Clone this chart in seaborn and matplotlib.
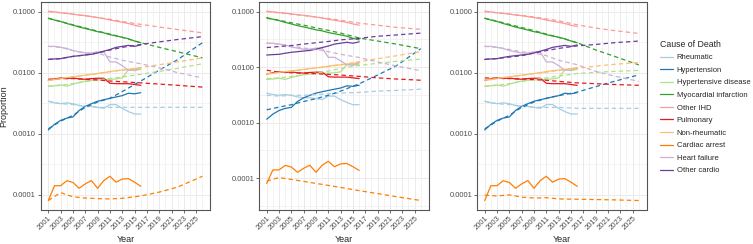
import matplotlib.pyplot as plt
import matplotlib.ticker as mticker
import numpy as np
import pandas as pd
import seaborn as sns
from matplotlib.lines import Line2D

sns.set_theme(style="white")
plt.rcParams["font.family"] = ["Liberation Sans", "DejaVu Sans"]

CAUSES = [
    "Rheumatic",
    "Hypertension",
    "Hypertensive disease",
    "Myocardial infarction",
    "Other IHD",
    "Pulmonary",
    "Non-rheumatic",
    "Cardiac arrest",
    "Heart failure",
    "Other cardio",
]

# observed proportions, 2001-2016 (same in every panel)
OBS_YEARS = list(range(2001, 2017))
obs_rheumatic = [0.0034, 0.0032, 0.0031, 0.0032, 0.0031, 0.0029, 0.0028, 0.0028, 0.0027, 0.0026, 0.0030, 0.0030, 0.0026, 0.0023, 0.0021, 0.0021]
obs_hypertension = [0.00115, 0.00142, 0.00165, 0.00180, 0.00188, 0.0024, 0.0028, 0.0031, 0.0034, 0.0036, 0.0038, 0.0040, 0.0042, 0.0046, 0.0045, 0.0047]
obs_hypertensive = [0.0060, 0.0061, 0.0063, 0.0060, 0.0065, 0.0069, 0.0073, 0.0075, 0.0076, 0.0077, 0.0078, 0.0079, 0.0082, 0.0112, 0.0108, 0.0113]
obs_mi = [0.078, 0.073, 0.069, 0.064, 0.060, 0.056, 0.053, 0.050, 0.047, 0.045, 0.042, 0.040, 0.038, 0.036, 0.033, 0.031]
obs_other_ihd = [0.102, 0.099, 0.096, 0.094, 0.091, 0.088, 0.086, 0.083, 0.080, 0.077, 0.073, 0.070, 0.067, 0.064, 0.060, 0.057]
obs_pulmonary = [0.0075, 0.0079, 0.0082, 0.0080, 0.0082, 0.0079, 0.0078, 0.0080, 0.0081, 0.0081, 0.0067, 0.0066, 0.0066, 0.0066, 0.0064, 0.0062]
obs_non_rheumatic = [0.0075, 0.0077, 0.0080, 0.0083, 0.0086, 0.0088, 0.0091, 0.0094, 0.0097, 0.0100, 0.0104, 0.0108, 0.0110, 0.0113, 0.0117, 0.0121]
obs_cardiac_arrest = [0.000080, 0.000140, 0.000140, 0.000169, 0.000158, 0.000127, 0.000150, 0.000170, 0.000127, 0.000170, 0.000200, 0.000160, 0.000180, 0.000183, 0.000160, 0.000137]
obs_heart_failure = [0.027, 0.027, 0.026, 0.025, 0.023, 0.022, 0.021, 0.021, 0.022, 0.022, 0.015, 0.015, 0.013, 0.011, 0.011, 0.012]
obs_other_cardio = [0.0165, 0.0168, 0.0170, 0.0178, 0.0185, 0.0190, 0.0195, 0.0200, 0.0210, 0.0225, 0.0240, 0.0260, 0.0270, 0.0280, 0.0270, 0.0285]

# fitted + projected values (dashed), one set per panel
FC_YEARS = [2001, 2003, 2005, 2007, 2009, 2011, 2013, 2016, 2019, 2022, 2026]

fc1 = {
    "Rheumatic": [0.0034, 0.0031, 0.0030, 0.0028, 0.0027, 0.0027, 0.0027, 0.0027, 0.0027, 0.0027, 0.0027],
    "Hypertension": [0.0012, 0.0016, 0.0020, 0.0027, 0.0033, 0.0038, 0.0049, 0.0073, 0.0110, 0.0164, 0.031],
    "Hypertensive disease": [0.0060, 0.0062, 0.0066, 0.0071, 0.0076, 0.0080, 0.0085, 0.0094, 0.0105, 0.0118, 0.0140],
    "Myocardial infarction": [0.078, 0.069, 0.061, 0.054, 0.048, 0.043, 0.038, 0.031, 0.026, 0.022, 0.0175],
    "Other IHD": [0.100, 0.096, 0.091, 0.086, 0.080, 0.075, 0.069, 0.062, 0.056, 0.051, 0.045],
    "Pulmonary": [0.0078, 0.0080, 0.0080, 0.0078, 0.0076, 0.0073, 0.0071, 0.0068, 0.0065, 0.0062, 0.0058],
    "Non-rheumatic": [0.0075, 0.0080, 0.0086, 0.0091, 0.0097, 0.0104, 0.0110, 0.0121, 0.0135, 0.0150, 0.0175],
    "Cardiac arrest": [0.000080, 0.000108, 0.000092, 0.000088, 0.000086, 0.000085, 0.000087, 0.000095, 0.000110, 0.000133, 0.000200],
    "Heart failure": [0.027, 0.026, 0.023, 0.021, 0.021, 0.018, 0.016, 0.014, 0.012, 0.010, 0.0082],
    "Other cardio": [0.0165, 0.0170, 0.0185, 0.0195, 0.0210, 0.0235, 0.0260, 0.0290, 0.0320, 0.0350, 0.0390],
}
fc2 = {
    "Rheumatic": [0.0031, 0.0030, 0.0031, 0.0031, 0.0032, 0.0033, 0.0034, 0.0035, 0.0037, 0.0038, 0.0040],
    "Hypertension": [0.0017, 0.0019, 0.0021, 0.0024, 0.0027, 0.0031, 0.0037, 0.0050, 0.0072, 0.0105, 0.0215],
    "Hypertensive disease": [0.0062, 0.0064, 0.0068, 0.0073, 0.0078, 0.0085, 0.0095, 0.0107, 0.0117, 0.0127, 0.0140],
    "Myocardial infarction": [0.076, 0.070, 0.063, 0.057, 0.051, 0.046, 0.041, 0.0335, 0.0295, 0.026, 0.0215],
    "Other IHD": [0.100, 0.095, 0.090, 0.085, 0.080, 0.075, 0.070, 0.062, 0.057, 0.052, 0.048],
    "Pulmonary": [0.0088, 0.0081, 0.0079, 0.0078, 0.0076, 0.0074, 0.0072, 0.0068, 0.0064, 0.0061, 0.0058],
    "Non-rheumatic": [0.0076, 0.0080, 0.0085, 0.0090, 0.0096, 0.0102, 0.0110, 0.0125, 0.0142, 0.0160, 0.0190],
    "Cardiac arrest": [0.000088, 0.000102, 0.0000944, 0.000087, 0.000080, 0.0000737, 0.0000676, 0.0000593, 0.0000524, 0.0000462, 0.0000393],
    "Heart failure": [0.027, 0.026, 0.024, 0.022, 0.021, 0.019, 0.017, 0.0149, 0.0124, 0.0105, 0.0086],
    "Other cardio": [0.0225, 0.0235, 0.0245, 0.0260, 0.0275, 0.0290, 0.0310, 0.0330, 0.0360, 0.0380, 0.0410],
}
fc3 = {
    "Rheumatic": [0.0034, 0.0031, 0.0030, 0.0028, 0.0027, 0.0027, 0.0027, 0.0026, 0.0026, 0.0026, 0.0026],
    "Hypertension": [0.0012, 0.0016, 0.0020, 0.0027, 0.0033, 0.0038, 0.0042, 0.0048, 0.0059, 0.0072, 0.0092],
    "Hypertensive disease": [0.0060, 0.0062, 0.0066, 0.0072, 0.0077, 0.0082, 0.0088, 0.0097, 0.0101, 0.0105, 0.0109],
    "Myocardial infarction": [0.078, 0.070, 0.062, 0.055, 0.049, 0.043, 0.038, 0.031, 0.0236, 0.0186, 0.0134],
    "Other IHD": [0.100, 0.096, 0.092, 0.087, 0.082, 0.076, 0.071, 0.061, 0.054, 0.049, 0.044],
    "Pulmonary": [0.0082, 0.0081, 0.0080, 0.0079, 0.0077, 0.0075, 0.0072, 0.0068, 0.0066, 0.0064, 0.0062],
    "Non-rheumatic": [0.0076, 0.0080, 0.0085, 0.0090, 0.0096, 0.0102, 0.0109, 0.0118, 0.0128, 0.0137, 0.0147],
    "Cardiac arrest": [0.000098, 0.000095, 0.000099, 0.000091, 0.000088, 0.000089, 0.000085, 0.000084, 0.000083, 0.000082, 0.000080],
    "Heart failure": [0.027, 0.026, 0.024, 0.022, 0.021, 0.019, 0.016, 0.0135, 0.0105, 0.0088, 0.0072],
    "Other cardio": [0.0165, 0.0170, 0.0180, 0.0190, 0.0210, 0.0230, 0.0250, 0.0275, 0.0290, 0.0310, 0.0330],
}

obs = {
    "Rheumatic": obs_rheumatic,
    "Hypertension": obs_hypertension,
    "Hypertensive disease": obs_hypertensive,
    "Myocardial infarction": obs_mi,
    "Other IHD": obs_other_ihd,
    "Pulmonary": obs_pulmonary,
    "Non-rheumatic": obs_non_rheumatic,
    "Cardiac arrest": obs_cardiac_arrest,
    "Heart failure": obs_heart_failure,
    "Other cardio": obs_other_cardio,
}


def to_long(d, years):
    rows = []
    for cause, vals in d.items():
        for yr, v in zip(years, vals):
            rows.append({"year": yr, "value": v, "cause": cause})
    return pd.DataFrame(rows)


obs_df = to_long(obs, OBS_YEARS)
palette = dict(zip(CAUSES, sns.color_palette("Paired", 10)))

fig = plt.figure(figsize=(7.53, 2.44), dpi=100)
W, H = 753, 244
panel_lefts = [40.6, 259, 477]
panel_w = 169.5
top, bottom = 1.7, 210

GRID = "#EBEBEB"
TXT = "#4D4D4D"

for i, fc in enumerate([fc1, fc2, fc3]):
    ax = fig.add_axes([panel_lefts[i] / W, 1 - bottom / H, panel_w / W, (bottom - top) / H])
    fc_df = to_long(fc, FC_YEARS)
    sns.lineplot(data=obs_df, x="year", y="value", hue="cause", hue_order=CAUSES,
                 palette=palette, estimator=None, legend=False, lw=0.9, ax=ax)
    sns.lineplot(data=fc_df, x="year", y="value", hue="cause", hue_order=CAUSES,
                 palette=palette, estimator=None, legend=False, lw=0.9,
                 linestyle=(0, (3.5, 2.5)), ax=ax)
    ax.set_yscale("log")
    ax.margins(x=0.05, y=0.05)

    ax.yaxis.set_major_locator(mticker.FixedLocator([1e-4, 1e-3, 1e-2, 1e-1]))
    ax.yaxis.set_major_formatter(mticker.FuncFormatter(lambda v, p: f"{v:.4f}"))
    ax.yaxis.set_minor_locator(mticker.FixedLocator([10 ** -4.5, 10 ** -3.5, 10 ** -2.5, 10 ** -1.5]))
    ax.yaxis.set_minor_formatter(mticker.NullFormatter())
    ax.xaxis.set_major_locator(mticker.FixedLocator(list(range(2001, 2026, 2))))
    ax.xaxis.set_minor_locator(mticker.FixedLocator(list(range(2002, 2027, 2))))
    ax.xaxis.set_major_formatter(mticker.FuncFormatter(lambda v, p: f"{int(v)}"))

    ax.grid(which="major", color=GRID, lw=0.7)
    ax.grid(which="minor", color=GRID, lw=0.4)
    ax.set_axisbelow(True)
    for s in ax.spines.values():
        s.set_color("#555555")
        s.set_linewidth(0.8)

    ax.tick_params(which="major", length=2, width=0.5, color="#333333",
                   labelsize=5.5, labelcolor=TXT, pad=1.5, bottom=True, left=True)
    ax.tick_params(which="minor", length=0)
    for lab in ax.get_xticklabels():
        lab.set_rotation(45)
        lab.set_ha("right")
        lab.set_rotation_mode("anchor")

    ax.set_xlabel("Year", fontsize=6.5, labelpad=2)
    ax.set_ylabel("Proportion" if i == 0 else "", fontsize=6.5, labelpad=3)

handles = [Line2D([0], [0], color=palette[c], lw=0.9) for c in CAUSES]
fig.legend(handles, CAUSES, title="Cause of Death", loc="upper left",
           bbox_to_anchor=(653 / W, 1 - 33 / H), frameon=False, fontsize=5.5,
           title_fontsize=6.3, handlelength=1.7, handletextpad=0.5,
           labelspacing=0.68, alignment="left")

fig.savefig("out.png", dpi=100)
